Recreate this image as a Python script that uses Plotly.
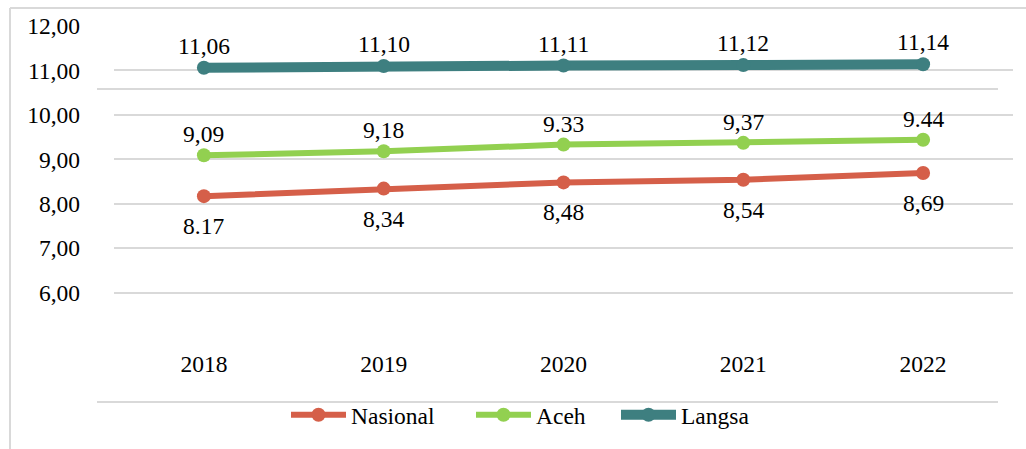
import plotly.graph_objects as go

years = ["2018", "2019", "2020", "2021", "2022"]
nasional = [8.17, 8.34, 8.48, 8.54, 8.69]
aceh = [9.09, 9.18, 9.33, 9.37, 9.44]
langsa = [11.06, 11.10, 11.11, 11.12, 11.14]
nasional_lbl = ["8.17", "8,34", "8,48", "8,54", "8,69"]
aceh_lbl = ["9,09", "9,18", "9.33", "9,37", "9.44"]
langsa_lbl = ["11,06", "11,10", "11,11", "11,12", "11,14"]
ytick_vals = [6, 7, 8, 9, 10, 11, 12]
ytick_text = ["6,00", "7,00", "8,00", "9,00", "10,00", "11,00", "12,00"]
grid_vals = [6, 7, 8, 9, 10, 11]

FONT = "Liberation Serif"
FS = 23.5
C_NAS = "#d55f49"
C_ACEH = "#92d050"
C_LANG = "#3e7f80"

W, H = 1026, 449
ML, MR, MT, MB = 114, 13, 26, 112

ph = H - MT - MB
pw = W - ML - MR


def px_x(p):
    return (p - ML) / pw


def px_y(p):
    return (H - MB - p) / ph


fig = go.Figure()
series = [
    ("Nasional", nasional, C_NAS, 6, nasional_lbl, -30, "legend", 286),
    ("Aceh", aceh, C_ACEH, 6, aceh_lbl, 21, "legend2", 471),
    ("Langsa", langsa, C_LANG, 10, langsa_lbl, 22, "legend3", 616),
]
annotations = []
legends = {}
for name, vals, col, lw, lbls, shift, leg, lx in series:
    fig.add_trace(go.Scatter(
        x=years, y=vals, name=name, mode="lines+markers",
        line=dict(color=col, width=lw),
        marker=dict(color=col, size=14),
        yaxis="y", legend=leg,
    ))
    for i, (yv, t) in enumerate(zip(vals, lbls)):
        annotations.append(dict(
            x=i, y=yv, xref="x", yref="y", text=t, showarrow=False,
            yshift=shift, font=dict(family=FONT, size=FS, color="#000000"),
        ))
    legends[leg] = dict(orientation="h", x=px_x(lx), xanchor="left",
                        y=px_y(415), yanchor="middle", itemwidth=55,
                        font=dict(family=FONT, size=FS, color="#000000"),
                        bgcolor="rgba(0,0,0,0)")

# invisible trace to activate the grid axis
fig.add_trace(go.Scatter(x=years, y=[None] * len(years), yaxis="y2",
                         showlegend=False, hoverinfo="skip"))

gray = "#d9d9d9"
shapes = [
    dict(type="line", xref="paper", yref="paper", x0=px_x(97), x1=px_x(998),
         y0=px_y(89), y1=px_y(89), line=dict(color=gray, width=2)),
    dict(type="line", xref="paper", yref="paper", x0=px_x(97), x1=px_x(998),
         y0=px_y(402), y1=px_y(402), line=dict(color=gray, width=2)),
    dict(type="line", xref="paper", yref="paper", x0=px_x(10), x1=px_x(10),
         y0=px_y(8), y1=px_y(449), line=dict(color=gray, width=2)),
    dict(type="line", xref="paper", yref="paper", x0=px_x(10), x1=px_x(1026),
         y0=px_y(8), y1=px_y(8), line=dict(color=gray, width=2)),
]

fig.update_layout(
    width=W, height=H,
    margin=dict(l=ML, r=MR, t=MT, b=MB),
    paper_bgcolor="white", plot_bgcolor="white",
    font=dict(family=FONT, size=FS, color="#000000"),
    xaxis=dict(type="category", range=[-0.5, 4.5], showgrid=False,
               zeroline=False, showline=False, ticks="",
               ticklabelstandoff=10,
               tickfont=dict(family=FONT, size=FS, color="#000000")),
    yaxis=dict(range=[5, 12], tickvals=ytick_vals, ticktext=ytick_text,
               showgrid=False, zeroline=False, showline=False, ticks="",
               ticklabelstandoff=33,
               tickfont=dict(family=FONT, size=FS, color="#000000")),
    yaxis2=dict(range=[5, 12], overlaying="y", side="left",
                tickvals=grid_vals, showticklabels=False, showgrid=True,
                gridcolor=gray, gridwidth=2, zeroline=False, ticks=""),
    annotations=annotations,
    shapes=shapes,
    showlegend=True,
    **legends,
)

fig.write_html("out.html")
